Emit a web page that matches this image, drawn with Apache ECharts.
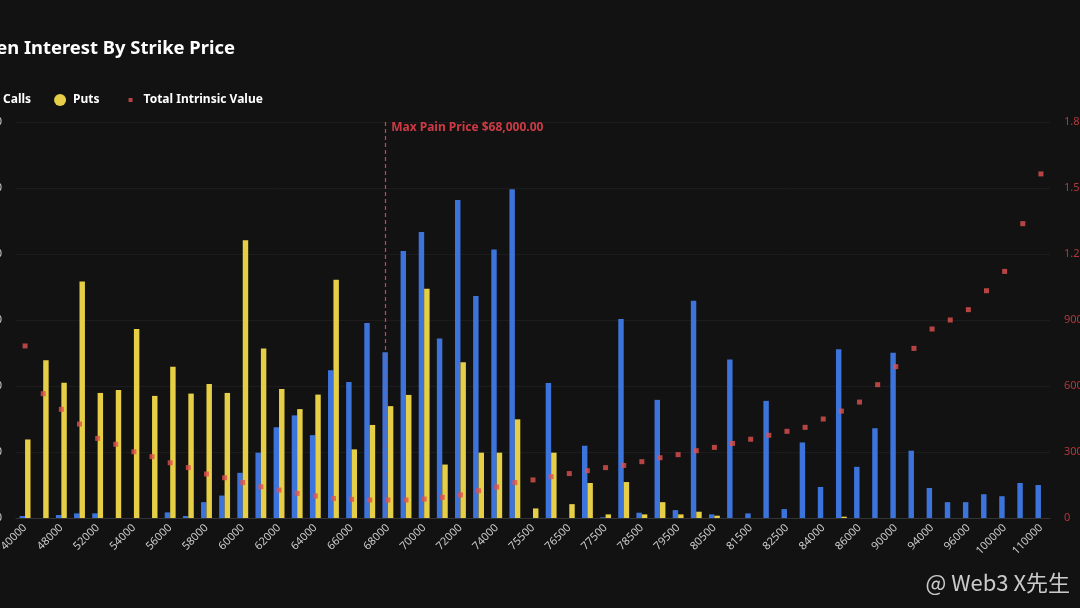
<!DOCTYPE html>
<html>
<head>
<meta charset="utf-8">
<title>Open Interest By Strike Price</title>
<script src="https://cdn.jsdelivr.net/npm/echarts@6/dist/echarts.min.js"></script>
<style>
    html, body { margin: 0; padding: 0; background: #121212; overflow: hidden; }
    #main { position: absolute; left: -60px; top: 0; width: 1200px; height: 608px; }
</style>
</head>
<body>
<div id="main"></div>
<script>
// 行权价
var strikes = ['40000', '45000', '48000', '50000', '52000', '53000', '54000', '55000', '56000', '57000',
    '58000', '59000', '60000', '61000', '62000', '63000', '64000', '65000', '66000', '67000',
    '68000', '69000', '70000', '71000', '72000', '73000', '74000', '75000', '75500', '76000',
    '76500', '77000', '77500', '78000', '78500', '79000', '79500', '80000', '80500', '81000',
    '81500', '82000', '82500', '83000', '84000', '85000', '86000', '88000', '90000', '92000',
    '94000', '95000', '96000', '98000', '100000', '105000', '110000'];

// 看涨持仓
var calls = [30, 0, 45, 70, 70, 0, 0, 0, 85, 30,
    240, 340, 685, 990, 1375, 1555, 1255, 2240, 2060, 2955,
    2510, 4045, 4335, 2720, 4820, 3365, 4070, 4980, 0, 2045,
    0, 1095, 10, 3015, 80, 1790, 120, 3290, 55, 2400,
    70, 1775, 135, 1145, 470, 2555, 775, 1360, 2505, 1020,
    455, 240, 240, 360, 330, 530, 500];

// 看跌持仓
var puts = [1190, 2390, 2050, 3585, 1895, 1940, 2865, 1850, 2290, 1885,
    2030, 1895, 4210, 2570, 1955, 1650, 1870, 3610, 1040, 1410,
    1695, 1865, 3475, 810, 2360, 990, 990, 1495, 145, 990,
    210, 530, 55, 545, 55, 240, 55, 95, 35, 0,
    0, 0, 0, 0, 0, 20, 0, 0, 0, 0,
    0, 0, 0, 0, 0, 0, 0];

// 总内在价值 (百万美元)
var intrinsic = [782, 565, 494, 427, 362, 335, 301, 279, 251, 229,
    200, 183, 161, 142, 127, 112, 100, 89, 85, 82,
    82, 82, 86, 94, 105, 124, 141, 161, 173, 188,
    202, 215, 229, 239, 256, 274, 288, 306, 321, 339,
    358, 376, 394, 412, 450, 486, 527, 606, 688, 771,
    859, 900, 947, 1033, 1121, 1338, 1564];

var maxPain = '68000';

var myChart = echarts.init(document.getElementById('main'));

var option = {
    backgroundColor: '#121212',
    textStyle: { fontFamily: 'Noto Sans' },
    animation: false,
    title: {
        text: 'Open Interest By Strike Price',
        left: 25,
        top: 35,
        textStyle: { color: '#ffffff', fontSize: 18.4, fontWeight: 'bold', fontFamily: 'Noto Sans' }
    },
    legend: {
        left: 39,
        top: 89,
        itemWidth: 16,
        itemHeight: 12,
        itemGap: 23,
        textStyle: { color: '#ffffff', fontSize: 12, fontWeight: 'bold' },
        data: [
            { name: 'Calls', icon: 'circle' },
            { name: 'Puts', icon: 'circle' },
            // 小方块图标
            { name: 'Total Intrinsic Value', icon: 'path://M0,0M16,12M6,4h4v4h-4z' }
        ]
    },
    // 右下角水印
    graphic: [{
        type: 'text',
        right: 70,
        bottom: 14,
        style: {
            text: '@ Web3 X先生',
            fill: 'rgba(235,235,235,0.85)',
            font: '22px "Noto Sans CJK SC", "Noto Sans", sans-serif'
        }
    }],
    grid: { left: 76, right: 90, top: 122, bottom: 90 },
    xAxis: {
        type: 'category',
        data: strikes,
        axisTick: { show: false },
        axisLine: { lineStyle: { color: '#333333' } },
        axisLabel: { interval: 1, rotate: 45, color: '#cccccc', fontSize: 11, margin: 8 }
    },
    yAxis: [{
        type: 'value',
        min: 0,
        max: 6000,
        interval: 1000,
        axisLabel: { color: '#cccccc', fontSize: 11, margin: 14 },
        splitLine: { lineStyle: { color: '#1c1c1c' } }
    }, {
        type: 'value',
        min: 0,
        max: 1800,
        interval: 300,
        position: 'right',
        splitLine: { show: false },
        axisLabel: {
            color: '#b2383e',
            fontSize: 11,
            margin: 14,
            formatter: function (v) {
                if (v === 0) return '0';
                return v >= 1000 ? (v / 1000) + 'B' : v + 'M';
            }
        }
    }],
    series: [{
        name: 'Calls',
        type: 'bar',
        data: calls,
        barWidth: '30%',
        barGap: '0%',
        itemStyle: { color: '#3d74db' },
        markLine: {
            silent: true,
            symbol: 'none',
            lineStyle: { color: '#d8404a', type: [4, 3], width: 1.2, opacity: 1 },
            label: {
                position: 'end',
                align: 'left',
                verticalAlign: 'middle',
                distance: -6,
                padding: [0, 0, 0, 6],
                color: '#cf3a45',
                fontSize: 12,
                fontWeight: 'bold',
                formatter: 'Max Pain Price $68,000.00'
            },
            data: [{ xAxis: maxPain }]
        }
    }, {
        name: 'Puts',
        type: 'bar',
        data: puts,
        barWidth: '30%',
        barGap: '0%',
        itemStyle: { color: '#e6cf46' }
    }, {
        name: 'Total Intrinsic Value',
        type: 'scatter',
        yAxisIndex: 1,
        data: intrinsic,
        symbol: 'rect',
        symbolSize: 5,
        itemStyle: { color: '#e0514f' }
    }]
};

myChart.setOption(option);
window.onresize = myChart.resize;
</script>
</body>
</html>
